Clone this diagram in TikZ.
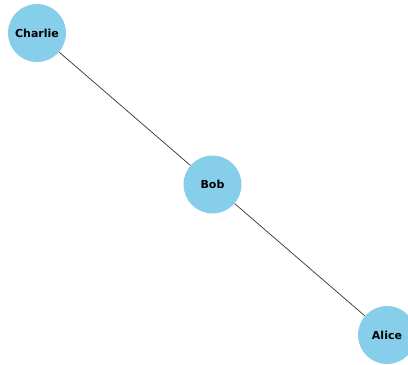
\documentclass[tikz,border=0pt]{standalone}
\usepackage{fontspec}
\setmainfont{DejaVu Sans}
\definecolor{nodeblue}{HTML}{87CEEB}
\begin{document}
\begin{tikzpicture}[x=1pt,y=-1pt,
  person/.style={circle,fill=nodeblue,draw=none,minimum size=58pt,inner sep=0pt,font=\fontsize{11}{12}\selectfont\bfseries},
  link/.style={draw=black!80,line width=0.7pt}]
\useasboundingbox (0,0) rectangle (408,365);
\clip (0,0) rectangle (408,365);
\node[person] (charlie) at (37,33) {Charlie};
\node[person] (bob) at (212.5,184.5) {Bob};
\node[person] (alice) at (387,335) {Alice};
\draw[link] (charlie) -- (bob);
\draw[link] (bob) -- (alice);
\end{tikzpicture}
\end{document}
